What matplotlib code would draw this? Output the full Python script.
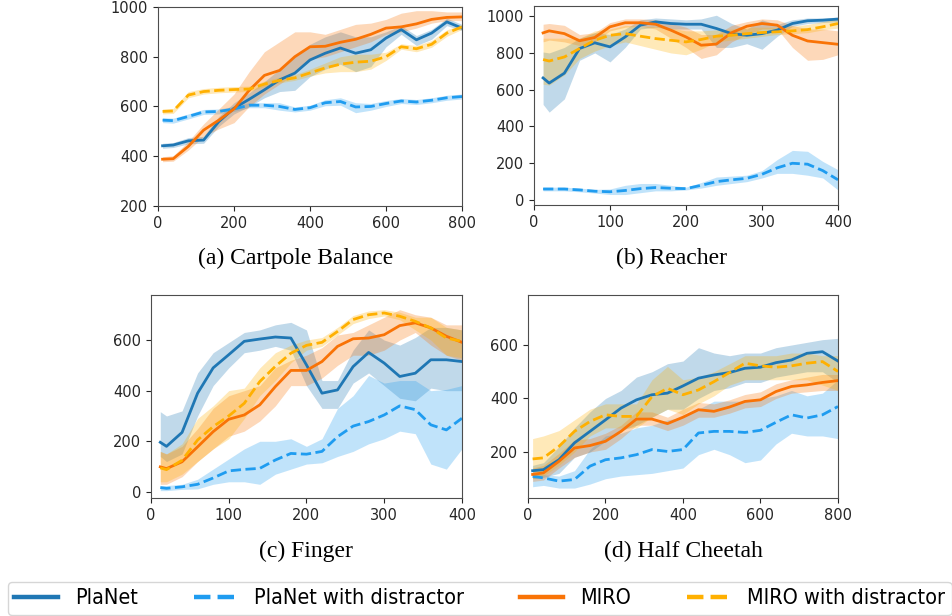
import numpy as np
import matplotlib
matplotlib.use("Agg")
import matplotlib.pyplot as plt
from matplotlib.lines import Line2D

# ---- data ----
x_long = [12, 40, 80, 120, 160, 200, 240, 280, 320, 360, 400, 440, 480, 520, 560, 600, 640, 680, 720, 760, 800]
x_short = [12, 20, 40, 60, 80, 100, 120, 140, 160, 180, 200, 220, 240, 260, 280, 300, 320, 340, 360, 380, 400]

# (a) Cartpole Balance
a_planet = [442, 445, 462, 465, 539, 593, 629, 667, 707, 734, 787, 814, 835, 814, 828, 875, 909, 868, 895, 940, 915]
a_planet_lo = [432, 435, 450, 452, 520, 570, 600, 635, 660, 665, 720, 750, 770, 740, 760, 840, 890, 845, 870, 925, 905]
a_planet_hi = [452, 455, 475, 480, 560, 615, 655, 700, 750, 800, 850, 880, 900, 880, 880, 900, 925, 885, 910, 955, 930]
a_planet_d = [545, 543, 560, 578, 580, 590, 605, 605, 600, 588, 595, 615, 620, 598, 600, 612, 622, 618, 625, 635, 640]
a_planet_d_lo = [535, 533, 550, 568, 570, 580, 595, 595, 585, 578, 585, 603, 605, 575, 585, 600, 612, 608, 615, 625, 630]
a_planet_d_hi = [555, 553, 570, 588, 590, 600, 615, 615, 615, 598, 605, 627, 635, 615, 612, 624, 632, 628, 635, 645, 650]
a_miro = [388, 390, 440, 505, 545, 590, 665, 725, 745, 800, 840, 842, 858, 870, 890, 915, 920, 932, 950, 958, 960]
a_miro_lo = [378, 380, 425, 480, 510, 535, 600, 650, 690, 730, 790, 800, 820, 840, 860, 890, 900, 915, 935, 945, 945]
a_miro_hi = [398, 402, 460, 530, 590, 650, 740, 820, 860, 900, 900, 890, 910, 930, 935, 950, 975, 985, 985, 980, 980]
a_miro_d = [580, 582, 646, 660, 665, 668, 670, 690, 705, 715, 735, 755, 770, 778, 782, 800, 840, 832, 850, 895, 920]
a_miro_d_lo = [570, 572, 635, 650, 655, 658, 660, 680, 695, 705, 722, 735, 740, 740, 750, 785, 830, 820, 838, 882, 910]
a_miro_d_hi = [590, 592, 660, 672, 677, 680, 682, 702, 718, 728, 750, 775, 800, 810, 810, 818, 852, 845, 865, 908, 930]

# (b) Reacher
b_planet = [664, 636, 690, 824, 855, 833, 887, 951, 969, 960, 956, 956, 933, 905, 896, 905, 924, 960, 975, 978, 984]
b_planet_lo = [520, 478, 550, 760, 800, 751, 830, 930, 940, 930, 930, 930, 830, 830, 850, 820, 890, 945, 960, 965, 970]
b_planet_hi = [805, 800, 830, 880, 910, 900, 930, 980, 990, 985, 980, 985, 1005, 960, 930, 980, 955, 980, 990, 990, 995]
b_planet_d = [60, 60, 60, 55, 48, 45, 52, 62, 68, 64, 62, 80, 100, 110, 118, 140, 175, 200, 195, 160, 110]
b_planet_d_lo = [50, 50, 50, 45, 38, 30, 30, 40, 50, 50, 55, 65, 80, 90, 100, 120, 145, 145, 135, 120, 55]
b_planet_d_hi = [70, 70, 70, 65, 58, 60, 80, 90, 90, 80, 70, 95, 125, 130, 135, 160, 220, 270, 265, 210, 165]
b_miro = [909, 920, 905, 866, 884, 942, 964, 964, 956, 924, 887, 842, 848, 910, 945, 960, 951, 896, 865, 856, 847]
b_miro_lo = [860, 870, 860, 840, 860, 920, 940, 945, 930, 880, 830, 770, 790, 860, 900, 930, 930, 830, 760, 765, 790]
b_miro_hi = [956, 960, 950, 900, 910, 965, 985, 985, 980, 960, 940, 900, 900, 950, 970, 985, 980, 950, 930, 930, 920]
b_miro_d = [764, 756, 778, 824, 869, 896, 905, 891, 878, 869, 860, 873, 891, 896, 905, 911, 915, 920, 927, 942, 960]
b_miro_d_lo = [630, 625, 680, 770, 810, 840, 860, 840, 820, 800, 790, 820, 860, 870, 880, 890, 900, 905, 910, 925, 935]
b_miro_d_hi = [880, 880, 880, 880, 920, 930, 950, 945, 945, 935, 920, 920, 925, 930, 940, 940, 940, 945, 955, 970, 990]

# (c) Finger
c_planet = [196, 180, 235, 390, 490, 542, 595, 604, 612, 608, 502, 390, 403, 495, 551, 509, 456, 469, 522, 522, 515]
c_planet_lo = [140, 120, 150, 300, 420, 490, 550, 560, 575, 560, 420, 330, 330, 430, 470, 420, 370, 360, 410, 400, 400]
c_planet_hi = [317, 300, 320, 470, 550, 590, 630, 640, 660, 670, 640, 440, 440, 560, 640, 600, 580, 610, 650, 650, 640]
c_planet_d = [17, 14, 20, 30, 55, 83, 89, 93, 126, 152, 149, 160, 218, 260, 278, 304, 340, 325, 265, 245, 291]
c_planet_d_lo = [5, 5, 10, 12, 30, 40, 40, 30, 70, 90, 110, 115, 140, 160, 190, 210, 240, 230, 110, 90, 170]
c_planet_d_hi = [25, 25, 30, 50, 90, 130, 170, 200, 200, 210, 180, 210, 330, 380, 460, 430, 440, 440, 400, 405, 420]
c_miro = [99, 92, 119, 178, 238, 287, 304, 344, 416, 480, 480, 515, 575, 605, 608, 621, 657, 668, 648, 615, 591]
c_miro_lo = [30, 30, 60, 120, 170, 220, 240, 280, 340, 420, 420, 450, 500, 540, 540, 560, 600, 630, 580, 540, 520]
c_miro_hi = [160, 150, 180, 250, 330, 380, 400, 420, 490, 520, 540, 570, 620, 630, 660, 690, 720, 700, 690, 660, 660]
c_miro_d = [95, 88, 125, 205, 258, 300, 350, 436, 496, 548, 579, 591, 634, 681, 700, 707, 694, 674, 648, 608, 595]
c_miro_d_lo = [40, 40, 70, 120, 170, 210, 290, 380, 440, 510, 560, 575, 620, 665, 685, 695, 680, 640, 600, 540, 530]
c_miro_d_hi = [160, 150, 190, 290, 340, 400, 410, 490, 550, 580, 600, 610, 650, 697, 715, 720, 710, 690, 690, 650, 640]

# (d) Half Cheetah
d_planet = [130, 134, 171, 234, 277, 320, 364, 395, 414, 420, 447, 476, 488, 497, 513, 517, 534, 544, 569, 575, 540]
d_planet_lo = [100, 105, 120, 180, 200, 240, 280, 300, 330, 360, 360, 400, 430, 440, 460, 460, 480, 490, 500, 500, 460]
d_planet_hi = [150, 160, 220, 290, 350, 400, 430, 480, 500, 530, 540, 590, 570, 560, 570, 570, 590, 600, 610, 620, 625]
d_planet_d = [109, 103, 91, 97, 147, 171, 178, 190, 209, 202, 209, 271, 277, 277, 273, 281, 311, 339, 327, 339, 370]
d_planet_d_lo = [70, 75, 65, 65, 80, 100, 110, 115, 120, 130, 140, 190, 210, 190, 160, 170, 230, 270, 260, 260, 250]
d_planet_d_hi = [115, 115, 110, 130, 210, 260, 270, 290, 300, 320, 330, 360, 390, 390, 390, 400, 410, 430, 410, 420, 470]
d_miro = [116, 122, 165, 215, 224, 240, 277, 323, 323, 306, 330, 358, 352, 368, 389, 395, 426, 445, 451, 460, 467]
d_miro_lo = [90, 95, 140, 180, 200, 210, 250, 300, 300, 280, 300, 330, 330, 345, 365, 370, 400, 420, 425, 430, 430]
d_miro_hi = [140, 150, 195, 245, 250, 270, 300, 350, 350, 330, 360, 385, 380, 395, 415, 425, 455, 470, 480, 490, 490]
d_miro_d = [174, 178, 221, 277, 314, 339, 333, 333, 407, 438, 414, 432, 463, 497, 532, 522, 517, 522, 532, 538, 501]
d_miro_d_lo = [100, 110, 150, 200, 260, 290, 290, 290, 330, 360, 340, 380, 410, 450, 470, 470, 470, 470, 470, 450, 430]
d_miro_d_hi = [250, 260, 280, 320, 360, 380, 380, 380, 470, 520, 470, 480, 500, 530, 560, 560, 560, 570, 570, 560, 560]

labels = ["PlaNet", "PlaNet with distractor", "MIRO", "MIRO with distractor"]
colors = ["#1f77b4", "#1f9cf0", "#f97306", "#ffb000"]
styles = ["-", "--", "-", "--"]

panels = [
    dict(title="(a) Cartpole Balance", x=x_long, xlim=(0, 800), ylim=(200, 1000),
         yticks=[200, 400, 600, 800, 1000], xticks=[0, 200, 400, 600, 800],
         rect=[0.1658, 0.6656, 0.319, 0.3231], cap=(0.31, 0.581),
         series=[(a_planet, a_planet_lo, a_planet_hi), (a_planet_d, a_planet_d_lo, a_planet_d_hi),
                 (a_miro, a_miro_lo, a_miro_hi), (a_miro_d, a_miro_d_lo, a_miro_d_hi)]),
    dict(title="(b) Reacher", x=x_short, xlim=(0, 400), ylim=(-27, 1055),
         yticks=[0, 200, 400, 600, 800, 1000], xticks=[0, 100, 200, 300, 400],
         rect=[0.5603, 0.6672, 0.319, 0.323], cap=(0.705, 0.581),
         series=[(b_planet, b_planet_lo, b_planet_hi), (b_planet_d, b_planet_d_lo, b_planet_d_hi),
                 (b_miro, b_miro_lo, b_miro_hi), (b_miro_d, b_miro_d_lo, b_miro_d_hi)]),
    dict(title="(c) Finger", x=x_short, xlim=(0, 400), ylim=(-24, 778),
         yticks=[0, 200, 400, 600], xticks=[0, 100, 200, 300, 400],
         rect=[0.1584, 0.1916, 0.3263, 0.3295], cap=(0.321, 0.105),
         series=[(c_planet, c_planet_lo, c_planet_hi), (c_planet_d, c_planet_d_lo, c_planet_d_hi),
                 (c_miro, c_miro_lo, c_miro_hi), (c_miro_d, c_miro_d_lo, c_miro_d_hi)]),
    dict(title="(d) Half Cheetah", x=x_long, xlim=(0, 800), ylim=(28, 787),
         yticks=[200, 400, 600], xticks=[0, 200, 400, 600, 800],
         rect=[0.554, 0.1916, 0.3253, 0.3295], cap=(0.717, 0.105),
         series=[(d_planet, d_planet_lo, d_planet_hi), (d_planet_d, d_planet_d_lo, d_planet_d_hi),
                 (d_miro, d_miro_lo, d_miro_hi), (d_miro_d, d_miro_d_lo, d_miro_d_hi)]),
]

fig = plt.figure(figsize=(9.53, 6.16), dpi=100)

for p in panels:
    ax = fig.add_axes(p["rect"])
    for (m, lo, hi), c, ls in zip(p["series"], colors, styles):
        ax.fill_between(p["x"], lo, hi, color=c, alpha=0.28, linewidth=0)
        ax.plot(p["x"], m, color=c, linestyle=ls, linewidth=2.0)
    ax.set_xlim(*p["xlim"])
    ax.set_ylim(*p["ylim"])
    ax.set_xticks(p["xticks"])
    ax.set_yticks(p["yticks"])
    ax.tick_params(labelsize=10.5, colors="0.15")
    for s in ax.spines.values():
        s.set_color("0.3")
    fig.text(p["cap"][0], p["cap"][1], p["title"], ha="center", va="center",
             fontsize=17, family="Liberation Serif")

handles = [Line2D([0], [0], color=c, linestyle=ls, linewidth=3.2) for c, ls in zip(colors, styles)]
leg = fig.legend(handles, labels, loc="upper left", bbox_to_anchor=(8 / 953, 1 - 582 / 616),
                 ncol=4, borderaxespad=0, borderpad=0.3, handlelength=2.0, handletextpad=0.8,
                 columnspacing=2.6, prop=dict(family="DejaVu Sans", stretch="condensed", size=15.5))

fig.savefig("out.png", dpi=100)
